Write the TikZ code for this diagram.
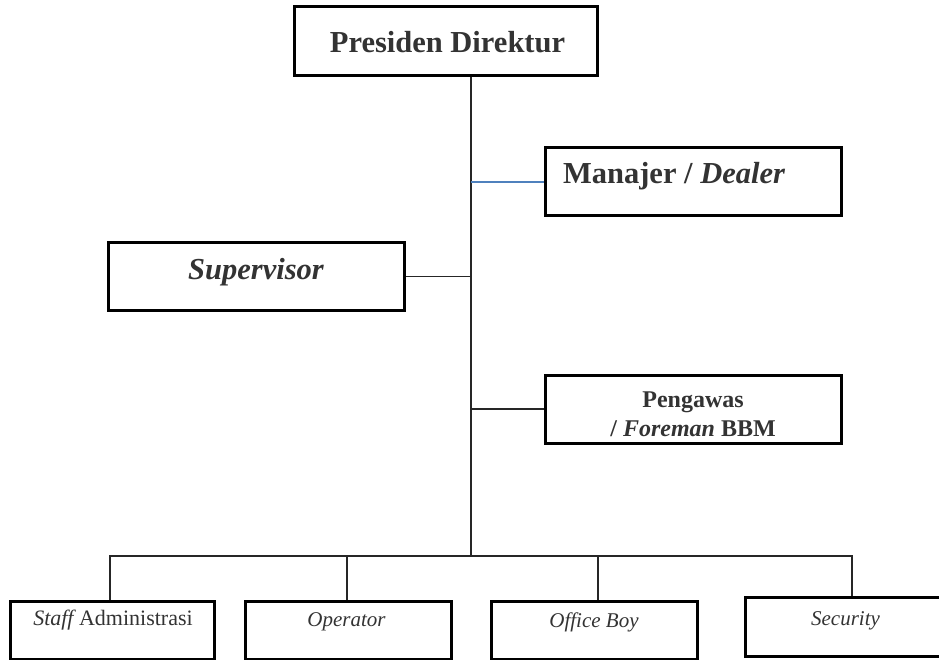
\documentclass[tikz,border=0pt]{standalone}
\usepackage{fontspec}
\setmainfont{Liberation Serif}
\usetikzlibrary{positioning}

\begin{document}
\begin{tikzpicture}[
  x=1pt,y=-1pt,
  box/.style={draw=black,line width=3pt,fill=white,inner sep=0pt},
  bigbox/.style={box,minimum width=296pt,minimum height=68pt},
  smallbox/.style={box,minimum width=205pt,minimum height=58pt},
  txt/.style={text=black!80,inner sep=0pt,anchor=base,align=center},
  big/.style={txt,font=\fontsize{30.5}{34}\selectfont\bfseries},
  mid/.style={txt,font=\fontsize{24}{29}\selectfont\bfseries},
  small/.style={txt,font=\fontsize{21}{25}\selectfont},
  conn/.style={draw=black!85,line width=1.7pt},
  blueconn/.style={draw={rgb,255:red,79;green,129;blue,189},line width=1.3pt}
]
\useasboundingbox (0,0) rectangle (939,660);
\clip (0,0) rectangle (939,660);

% top level
\node[bigbox,minimum width=303pt,minimum height=69pt,
  label={[big,xshift=2pt,yshift=-1pt]center:Presiden Direktur}] (pd) at (445.5,41.5) {};

% middle level
\node[bigbox,label={[big,xshift=-19pt,yshift=6pt]center:Manajer / {\itshape Dealer}}] (mgr) at (693,182) {};
\node[bigbox,minimum height=67pt,label={[big,yshift=4.5pt]center:{\itshape Supervisor}}] (spv) at (256,276.5) {};
\node[bigbox,label={[mid,yshift=-5pt]center:Pengawas\\ / {\itshape Foreman} BBM}] (pgw) at (693,409) {};

% bottom level
\node[smallbox,minimum width=204pt,label={[small,font=\fontsize{22}{26}\selectfont,xshift=1pt,yshift=9.5pt]center:{\itshape Staff} Administrasi}] (adm) at (112,630) {};
\node[smallbox,minimum width=206pt,label={[small,xshift=-1.5pt,yshift=8pt]center:{\itshape Operator}}] (opr) at (348,630) {};
\node[smallbox,minimum width=206pt,label={[small,yshift=8pt]center:{\itshape Office Boy}}] (ob) at (594,630) {};
\node[smallbox,minimum width=260pt,minimum height=59pt,label={[small,xshift=-29.5pt,yshift=6pt]center:{\itshape Security}}] (sec) at (875,626.5) {};

\coordinate (bus) at (471,556);

\draw[conn] (pd.south -| bus) -- (bus);
\draw[blueconn] (mgr.west) -- (mgr.west -| bus);
\draw[conn] (spv.east) -- (spv.east -| bus);
\draw[conn] (pgw.west) -- (pgw.west -| bus);
\draw[conn] ([xshift=-2pt]adm.north) |- (bus) -| ([xshift=-23pt]sec.north);
\draw[conn] ([xshift=-1pt]opr.north) -- ([xshift=-1pt]opr.north |- bus);
\draw[conn] ([xshift=4pt]ob.north) -- ([xshift=4pt]ob.north |- bus);
\end{tikzpicture}
\end{document}
